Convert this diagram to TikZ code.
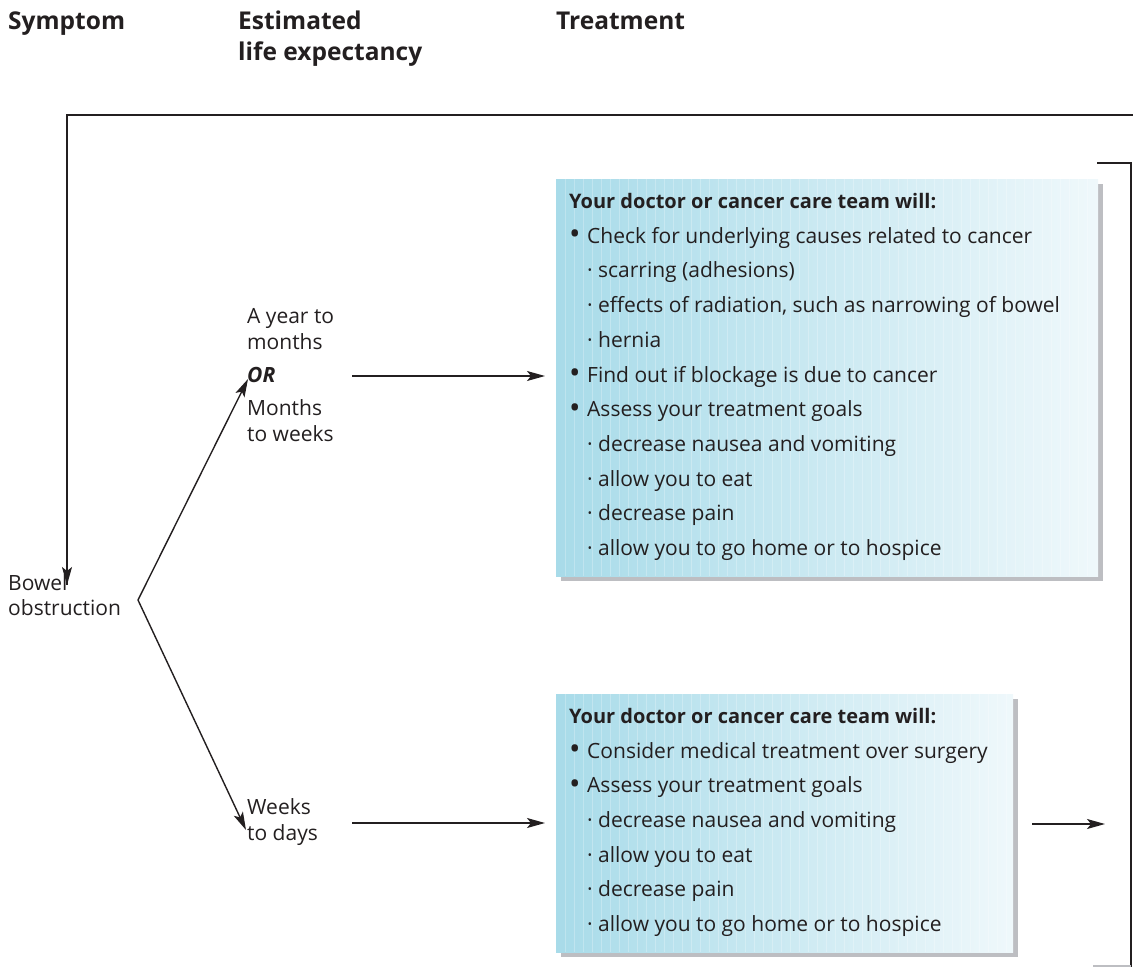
\documentclass[tikz,border=0pt]{standalone}
\usepackage{fontspec}
\setmainfont{Open Sans}
\usetikzlibrary{arrows.meta}
\definecolor{ink}{HTML}{231F20}
\definecolor{boxL}{HTML}{A8DBE9}
\definecolor{boxR}{HTML}{EFF8FB}
\definecolor{shadowgray}{HTML}{BDBEC2}
\newcommand{\boxfont}{\fontsize{21}{25}\selectfont}
\newcommand{\boldline}{\fontsize{20}{25}\selectfont\bfseries}
\newcommand{\hdrfont}{\fontsize{24.5}{31}\selectfont\bfseries}
\tikzset{
  arr/.style={draw=ink, line width=1.4pt, -{Stealth[length=18pt,width=10pt,inset=4pt]}},
  frame/.style={draw=ink, line width=1.8pt},
  tbox/.style={anchor=north west, inner sep=0pt, left color=boxL, right color=boxR, draw=none},
  sbox/.style={anchor=north west, inner sep=0pt, fill=shadowgray, draw=none},
  hdr/.style={anchor=base west, inner sep=0pt, font=\hdrfont, text=ink},
  bl/.style={anchor=base west, inner sep=0pt, font=\boxfont, text=ink},
  lbl/.style={anchor=base west, inner sep=0pt, font=\boxfont, text=ink},
}
\newcommand{\bul}{\makebox[18pt][l]{\raisebox{-1.5pt}{\scalebox{1.45}{•}}}}
\newcommand{\sub}{\makebox[11pt][l]{·}}
\begin{document}
\begin{tikzpicture}[x=1pt,y=-1pt]
\useasboundingbox (0,0) rectangle (1133,967);
% headers
\node[hdr] (h1) at (8,29) {Symptom};
\node[hdr] (h2) at (238,29) {Estimated};
\node[hdr] (h2b) at (238,60) {life expectancy};
\node[hdr] (h3) at (556,29) {Treatment};
% boxes
\node[sbox, minimum width=542pt, minimum height=397pt] (box1s) at (561,184) {};
\node[tbox, minimum width=542pt, minimum height=397pt] (box1) at (556,179) {};
\node[sbox, minimum width=457pt, minimum height=258pt] (box2s) at (561,699) {};
\node[tbox, minimum width=457pt, minimum height=258pt] (box2) at (556,694) {};
\foreach \xx in {565,574,...,1095} {\draw[white, opacity=0.25, line width=0.8pt] (\xx,179) -- (\xx,576);}
\foreach \xx in {565,574,...,1010} {\draw[white, opacity=0.25, line width=0.8pt] (\xx,694) -- (\xx,952);}
% box 1 text
\node[bl] (t1a) at (569,208.5) {\boldline Your doctor or cancer care team will:};
\node[bl] (t1b) at (569,243.2) {\bul Check for underlying causes related to cancer};
\node[bl] (t1c) at (587,277.9) {\sub scarring (adhesions)};
\node[bl] (t1d) at (587,312.6) {\sub effects of radiation, such as narrowing of bowel};
\node[bl] (t1e) at (587,347.3) {\sub hernia};
\node[bl] (t1f) at (569,382.0) {\bul Find out if blockage is due to cancer};
\node[bl] (t1g) at (569,416.7) {\bul Assess your treatment goals};
\node[bl] (t1h) at (587,451.4) {\sub decrease nausea and vomiting};
\node[bl] (t1i) at (587,486.1) {\sub allow you to eat};
\node[bl] (t1j) at (587,520.8) {\sub decrease pain};
\node[bl] (t1k) at (587,555.5) {\sub allow you to go home or to hospice};
% box 2 text
\node[bl] (t2a) at (569,723.4) {\boldline Your doctor or cancer care team will:};
\node[bl] (t2b) at (569,758.1) {\bul Consider medical treatment over surgery};
\node[bl] (t2c) at (569,792.8) {\bul Assess your treatment goals};
\node[bl] (t2d) at (587,827.5) {\sub decrease nausea and vomiting};
\node[bl] (t2e) at (587,862.2) {\sub allow you to eat};
\node[bl] (t2f) at (587,896.9) {\sub decrease pain};
\node[bl] (t2g) at (587,931.6) {\sub allow you to go home or to hospice};
% left labels
\node[lbl] (bo1) at (8,590) {Bowel};
\node[lbl] (bo2) at (8,615) {obstruction};
\node[lbl] (u1) at (247,323) {A year to};
\node[lbl] (u2) at (247,349) {months};
\node[lbl] (u3) at (247,382) {\bfseries\itshape OR};
\node[lbl] (u4) at (247,415) {Months};
\node[lbl] (u5) at (247,441) {to weeks};
\node[lbl] (w1) at (247,814) {Weeks};
\node[lbl] (w2) at (247,840) {to days};
% connectors
\coordinate (fork) at (138,600);
\coordinate (tipU) at (248,379);
\coordinate (tipL) at (246,830);
\draw[arr] (fork) -- (tipU);
\draw[arr] (fork) -- (tipL);
\coordinate (a1s) at (352,376);
\draw[arr, shorten >=11pt] (a1s) -- (a1s -| box1.west);
\coordinate (a2s) at (352,823);
\draw[arr, shorten >=11pt] (a2s) -- (a2s -| box2.west);
\coordinate (a3s) at (1032,824);
\coordinate (a3e) at (1105,824);
\draw[arr] (a3s) -- (a3e);
\coordinate (topR) at (1133,115);
\coordinate (topL) at (67,115);
\coordinate (bowTip) at (67,585);
\draw[frame] (topR) -- (topL) -- (bowTip);
\draw[arr] (topL) -- (bowTip);
\coordinate (brA) at (1097,163);
\coordinate (brB) at (1131,163);
\coordinate (brC) at (1131,967);
\draw[frame] (brA) -- (brB) -- (brC);
\coordinate (gA) at (1093,966);
\draw[shadowgray, line width=2pt] (gA) -- (brC |- gA);
\end{tikzpicture}
\end{document}
